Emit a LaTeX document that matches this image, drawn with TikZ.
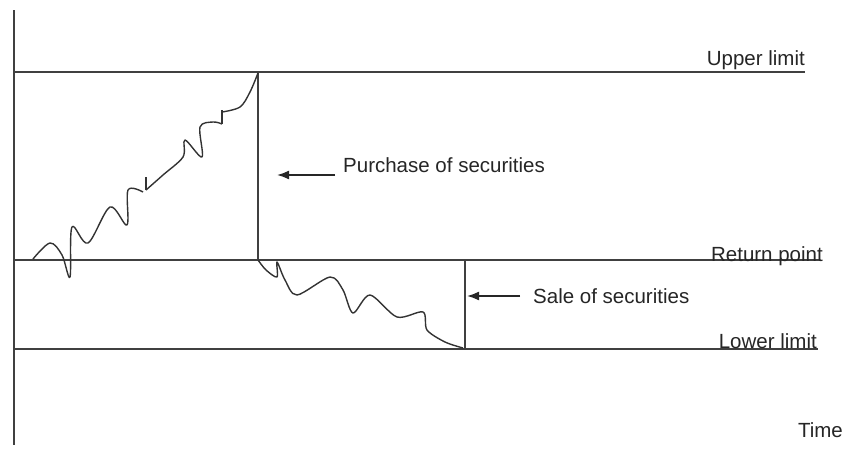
\documentclass[tikz,border=0pt]{standalone}
\usepackage{fontspec}
\setmainfont{Liberation Sans}
\usetikzlibrary{arrows.meta}
\begin{document}
\begin{tikzpicture}[x=1pt,y=-1pt,
  axisline/.style={line width=1.7pt,draw=black!75},
  limitline/.style={line width=1.7pt,draw=black!75},
  wave/.style={line width=1.4pt,draw=black!80,line join=round},
  pointer/.style={line width=1.7pt,draw=black!85,-{Latex[length=12pt,width=9pt]}},
  lbl/.style={font=\fontsize{20.5}{23}\selectfont,text=black!85,inner sep=0pt}]
\useasboundingbox[fill=white] (0,0) rectangle (852,450);
% axis
\coordinate (ax0) at (14,10);
\coordinate (ax1) at (14,445);
\draw[axisline] (ax0) -- (ax1);
% limit lines
\coordinate (u0) at (14,72);  \coordinate (u1) at (805,72);
\coordinate (r0) at (14,260); \coordinate (r1) at (820,260);
\coordinate (l0) at (14,349); \coordinate (l1) at (818,349);
\draw[limitline] (u0) -- (u1);
\draw[limitline] (r0) -- (r1);
\draw[limitline] (l0) -- (l1);
% vertical jumps
\coordinate (p0) at (258,72);  \coordinate (p1) at (258,260);
\coordinate (s0) at (465,260); \coordinate (s1) at (465,349);
\draw[limitline] (p0) -- (p1);
\draw[limitline] (s0) -- (s1);
% wavy paths
\draw[wave] plot[smooth,tension=0.55] coordinates {(33,259) (50,243) (62,255) (70,277) (72,227) (88,243) (110,207) (127,225) (128,190) (143,192)};
\draw[wave] (146,190) -- (146,177);
\draw[wave] plot[smooth,tension=0.55] coordinates {(146,190) (163,175) (183,157) (185,140) (202,157) (200,127) (213,122) (222,124)};
\draw[wave] (222,124) -- (222,110);
\draw[wave] plot[smooth,tension=0.55] coordinates {(222,112) (240,107) (250,92) (258,73)};
\draw[wave] plot[smooth,tension=0.5] coordinates {(258,260) (266,270) (277,277) (277,262) (285,280) (297,295) (330,277) (343,290) (353,313) (370,295) (397,317) (423,312) (427,330) (445,342) (463,348)};
% labels
\node[lbl,anchor=base east] (ul) at (805,65) {Upper limit};
\node[lbl,anchor=base east] (rp) at (823,261) {Return point};
\node[lbl,anchor=base east] (ll) at (817,348) {Lower limit};
\node[lbl,anchor=base east] (tm) at (843,437) {Time};
\node[lbl,anchor=base west] (pl) at (343,172) {Purchase of securities};
\node[lbl,anchor=base west] (sl) at (533,303) {Sale of securities};
% arrows
\coordinate (pa0) at (335,175); \coordinate (pa1) at (277,175);
\coordinate (sa0) at (520,296); \coordinate (sa1) at (467,296);
\draw[pointer] (pa0) -- (pa1);
\draw[pointer] (sa0) -- (sa1);
\end{tikzpicture}
\end{document}
